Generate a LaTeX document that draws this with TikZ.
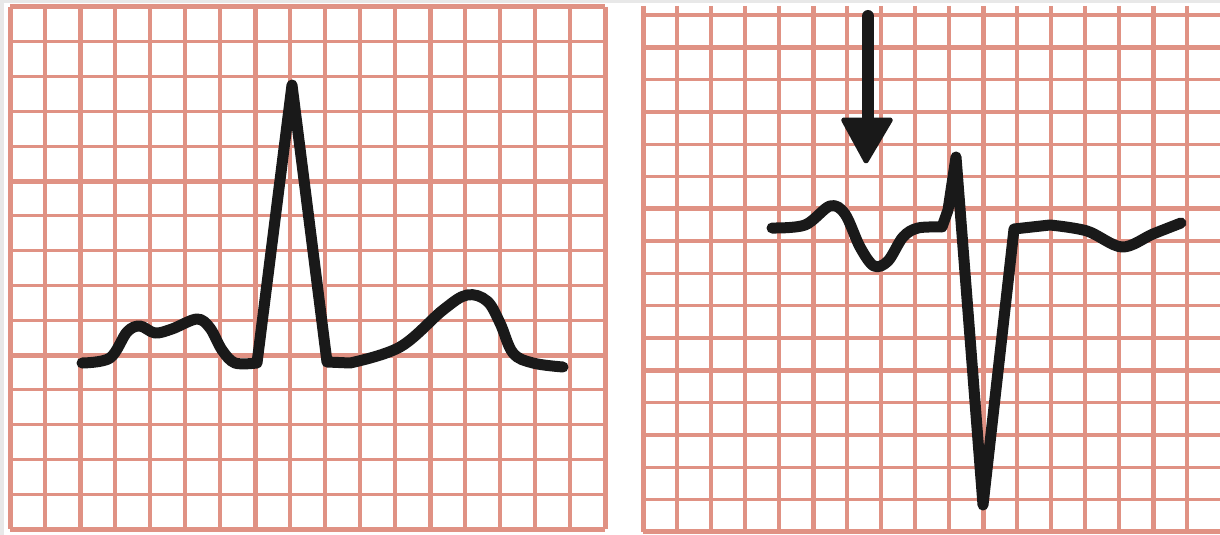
\documentclass[tikz,border=0pt]{standalone}
\usetikzlibrary{calc}
\definecolor{gridpink}{RGB}{224,146,132}
\definecolor{edgegray}{RGB}{232,232,232}
\begin{document}
\begin{tikzpicture}[x=1pt,y=-1pt,
  gridthin/.style={draw=gridpink,line width=3.3pt},
  gridmajor/.style={draw=gridpink,line width=5pt},
  ecgtrace/.style={draw=black!90,line width=11pt,line cap=round,line join=round},
  arrowshaft/.style={draw=black!90,line width=12pt,line cap=round},
  arrowhead/.style={fill=black!90,draw=black!90,line width=3pt,line join=round,rounded corners=2pt}]
\useasboundingbox (0,0) rectangle (1220,535);
\fill[white] (0,0) rectangle (1220,535);
\fill[edgegray] (0,0) rectangle (1220,3);
\fill[edgegray] (0,0) rectangle (4,535);
% ---------- left grid ----------
\foreach \i in {0,...,17} {
  \pgfmathsetmacro\xx{10+35*\i}
  \draw[gridthin] (\xx,7) -- (\xx,529);
}
\foreach \j in {0,...,15} {
  \pgfmathsetmacro\yy{7+34.8*\j}
  \draw[gridthin] (10,\yy) -- (605,\yy);
}
\foreach \i in {0,2,7,12,17} {
  \pgfmathsetmacro\xx{10+35*\i}
  \draw[gridmajor] (\xx,7) -- (\xx,529);
}
\foreach \j in {0,5,10,15} {
  \pgfmathsetmacro\yy{7+34.8*\j}
  \draw[gridmajor] (10,\yy) -- (605,\yy);
}
% ---------- right grid ----------
\foreach \i in {0,...,16} {
  \pgfmathsetmacro\xx{643+34*\i}
  \draw[gridthin] (\xx,6) -- (\xx,532);
}
\foreach \j in {0,...,16} {
  \pgfmathsetmacro\yy{15+32.3*\j}
  \draw[gridthin] (643,\yy) -- (1220,\yy);
}
\foreach \i in {0,5,10,15} {
  \pgfmathsetmacro\xx{643+34*\i}
  \draw[gridmajor] (\xx,6) -- (\xx,532);
}
\foreach \j in {1,6,11,16} {
  \pgfmathsetmacro\yy{15+32.3*\j}
  \draw[gridmajor] (643,\yy) -- (1220,\yy);
}
% ---------- left ECG trace ----------
\draw[ecgtrace] plot[smooth,tension=0.55] coordinates {(82,363)(110,358)(127,332)(140,326)(155,333)(172,329)(197,319)(210,328)(222,350)(235,363)(257,363)}
  -- (292,85) -- (327,362)
  -- plot[smooth,tension=0.6] coordinates {(350,363)(400,347)(443,310)(467,295)(487,301)(500,323)(513,353)(533,363)(563,367)};
% ---------- right ECG trace ----------
\draw[ecgtrace] plot[smooth,tension=0.55] coordinates {(772,228)(805,225)(830,206)(845,214)(860,247)(874,266)(888,261)(903,237)(918,228)(942,227)}
  -- (948,210) -- (956,157) -- (983,505) -- (1014,229)
  -- plot[smooth,tension=0.55] coordinates {(1050,225)(1087,231)(1122,247)(1153,234)(1181,223)};
% ---------- arrow ----------
\coordinate (arrowtop) at (868,16);
\coordinate (arrowbase) at (868,122);
\draw[arrowshaft] (arrowtop) -- (arrowbase);
\filldraw[arrowhead] (842,119) -- (892,119) -- (866,163) -- cycle;
\end{tikzpicture}
\end{document}
